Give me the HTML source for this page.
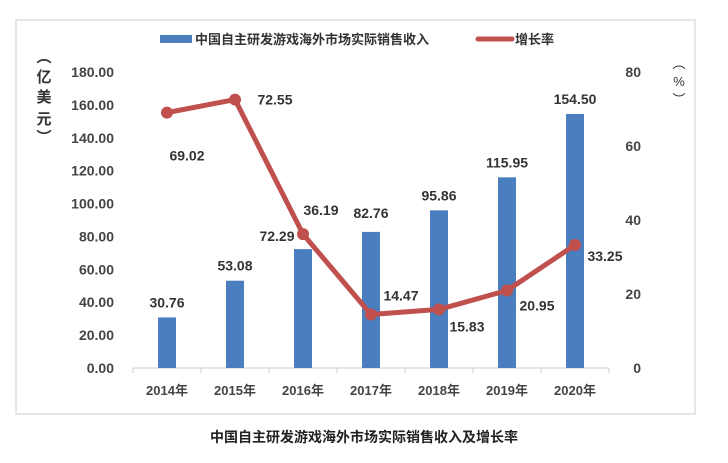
<!DOCTYPE html>
<html><head><meta charset="utf-8"><style>
body{margin:0;background:#fff;width:728px;height:458px;overflow:hidden;font-family:"Liberation Sans","Noto Sans CJK SC",sans-serif;}
svg text{font-family:"Liberation Sans","Noto Sans CJK SC",sans-serif;}
</style></head><body>
<svg width="728" height="458" id="chart">
<rect x="16" y="20" width="679" height="394" fill="#fff" stroke="#ddd" stroke-width="1.5"/>
<g id="g"></g>
<text x="364" y="442" text-anchor="middle" font-size="14" font-weight="bold" fill="#222">中国自主研发游戏海外市场实际销售收入及增长率</text>
</svg>
<script>
const categories=["2014年","2015年","2016年","2017年","2018年","2019年","2020年"];
const revenue=[30.76,53.08,72.29,82.76,95.86,115.95,154.50];
const growth=[69.02,72.55,36.19,14.47,15.83,20.95,33.25];
const leftTicks=[0,20,40,60,80,100,120,140,160,180];
const rightTicks=[0,20,40,60,80];
const NS="http://www.w3.org/2000/svg";
const g=document.getElementById('g');
const x0=133,bw=68,yb=368,yt=72;
const xs=i=>x0+bw*(i+0.5);
const yl=v=>yb-(v/180)*(yb-yt);
const yr=v=>yb-(v/80)*(yb-yt);
function mk(t,a,p){const e=document.createElementNS(NS,t);for(const k in a)e.setAttribute(k,a[k]);(p||g).appendChild(e);return e;}
function tx(s,x,y,anc,size,fill,w){const e=mk('text',{x:x,y:y,'text-anchor':anc,'font-size':size,fill:fill,'font-weight':w||'bold'});e.textContent=s;return e;}
// legend
let e=mk('rect',{x:160,y:35,width:32,height:8,fill:'#4a7ebf'});


e=tx('中国自主研发游戏海外市场实际销售收入',195,44,'start',13,'#333');


e=mk('line',{x1:478,y1:39,x2:512,y2:39,stroke:'#c0504d','stroke-width':5,'stroke-linecap':'round'});


e=tx('增长率',515,44,'start',13,'#333');


// axis titles
['︵','亿','美','元','︶'].forEach((c,i)=>{const t=tx(c,44,[62,82,102,124,142][i],'middle',15,'#333');

});
['︵','%','︶'].forEach((c,i)=>{const t=tx(c,679,[68,86,104][i],'middle',13,'#333','normal');

});
// ticks
leftTicks.forEach(v=>{const t=tx(v.toFixed(2),114,yl(v)+5,'end',14,'#444');

});
rightTicks.forEach(v=>{const t=tx(String(v),641,yr(v)+5,'end',14,'#444');

});
// x axis
e=mk('line',{x1:x0,y1:yb,x2:x0+bw*7,y2:yb,stroke:'#ccc','stroke-width':1});


for(let i=0;i<=7;i++){const l=mk('line',{x1:x0+bw*i,y1:yb,x2:x0+bw*i,y2:yb+5,stroke:'#ccc'});

}
categories.forEach((c,i)=>{const t=tx(c,xs(i),395,'middle',13,'#444');

});
// bars
const barOff=[[0,-10],[0,-10],[-26,-8],[0,-14],[0,-10],[0,-10],[0,-10]];
revenue.forEach((v,i)=>{const b=mk('rect',{x:xs(i)-9,y:yl(v),width:18,height:yb-yl(v),fill:'#4a7ebf'});


const t=tx(v.toFixed(2),xs(i)+barOff[i][0],yl(v)+barOff[i][1],'middle',14,'#333');

});
// line
const pts=growth.map((v,i)=>xs(i)+','+yr(v)).join(' ');
e=mk('polyline',{points:pts,fill:'none',stroke:'#c0504d','stroke-width':5,'stroke-linejoin':'round'});


const lOff=[[20,48],[40,5],[18,-19],[30,-14],[28,22],[30,20],[30,16]];
growth.forEach((v,i)=>{const c=mk('circle',{cx:xs(i),cy:yr(v),r:6,fill:'#c0504d'});


const t=tx(v.toFixed(2),xs(i)+lOff[i][0],yr(v)+lOff[i][1],'middle',14,'#333');

});
</script>
</body></html>
